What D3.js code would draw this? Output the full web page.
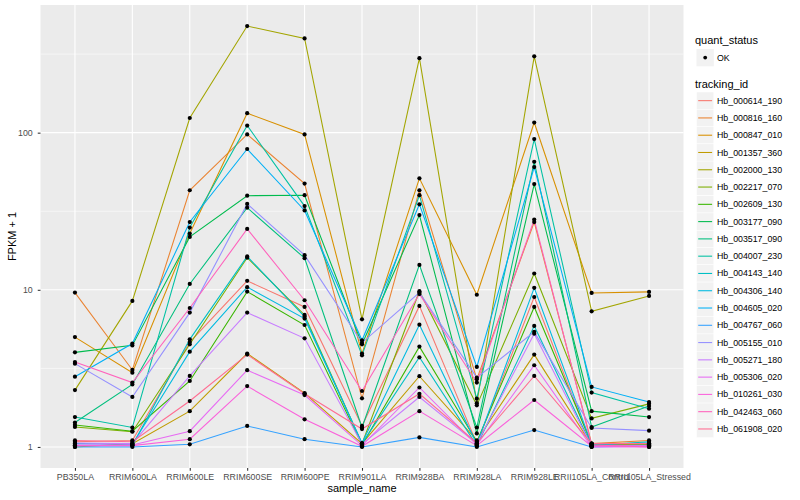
<!DOCTYPE html>
<html>
<head>
<meta charset="utf-8">
<script src="https://cdn.jsdelivr.net/npm/d3@7"></script>
<style>
  body { margin: 0; background: #fff; }
  text { font-family: "Liberation Sans", Arial, sans-serif; }
</style>
</head>
<body>
<svg id="chart"></svg>
<script>
//------ Données ------
var samples = ["PB350LA", "RRIM600LA", "RRIM600LE", "RRIM600SE", "RRIM600PE", "RRIM901LA",
  "RRIM928BA", "RRIM928LA", "RRIM928LE", "RRII105LA_Control", "RRII105LA_Stressed"];

var trackingIds = ["Hb_000614_190", "Hb_000816_160", "Hb_000847_010", "Hb_001357_360", "Hb_002000_130",
  "Hb_002217_070", "Hb_002609_130", "Hb_003177_090", "Hb_003517_090", "Hb_004007_230",
  "Hb_004143_140", "Hb_004306_140", "Hb_004605_020", "Hb_004767_060", "Hb_005155_010",
  "Hb_005271_180", "Hb_005306_020", "Hb_010261_030", "Hb_042463_060", "Hb_061908_020"];

// FPKM + 1, une ligne par tracking_id, dans l'ordre des samples
var fpkm = [
  [1.08, 1.10, 4.65, 11.4, 7.78, 1.36, 7.9, 1.05, 9.0, 1.02, 1.03],
  [9.6, 3.09, 43, 97.5, 47.4, 2.04, 43, 2.7, 27, 1.05, 1.10],
  [5.0, 2.97, 22.8, 133, 97.5, 3.93, 51.2, 9.3, 116, 9.55, 9.7],
  [1.0, 1.05, 1.69, 3.93, 2.2, 1.05, 2.82, 1.10, 3.87, 1.03, 1.05],
  [2.3, 8.5, 124, 477, 398, 6.49, 298, 1.9, 306, 7.3, 9.14],
  [1.34, 1.25, 4.5, 16.0, 6.92, 1.05, 9.8, 1.84, 12.7, 1.52, 1.88],
  [1.38, 1.26, 2.63, 9.74, 5.97, 1.03, 4.35, 1.08, 7.78, 1.05, 1.04],
  [4.0, 4.43, 21.7, 39.7, 40, 4.5, 29.9, 1.22, 47.1, 1.69, 1.55],
  [1.43, 2.5, 10.9, 33.3, 15.9, 1.33, 14.4, 1.33, 65.3, 1.34, 1.82],
  [1.55, 1.33, 24.9, 111, 34.1, 3.83, 40, 2.03, 91, 2.22, 1.75],
  [1.02, 1.02, 4.84, 16.3, 6.76, 1.05, 3.72, 1.02, 5.89, 1.02, 1.08],
  [1.05, 1.04, 4.04, 10.4, 6.56, 1.06, 6.0, 1.04, 10.3, 1.04, 1.06],
  [2.8, 4.55, 27, 78.7, 32, 4.77, 35, 3.23, 60.4, 2.41, 1.93],
  [1.0, 1.0, 1.04, 1.36, 1.12, 1.0, 1.15, 1.0, 1.28, 1.0, 1.02],
  [3.39, 2.08, 7.16, 35.2, 16.6, 4.6, 9.6, 2.76, 5.4, 1.32, 1.27],
  [1.06, 1.05, 2.83, 7.16, 4.91, 1.04, 2.08, 1.05, 5.26, 1.01, 1.02],
  [1.03, 1.03, 1.26, 3.08, 2.14, 1.02, 2.39, 1.03, 3.31, 1.0, 1.0],
  [1.02, 1.02, 1.12, 2.44, 1.5, 1.01, 1.69, 1.02, 1.99, 1.01, 1.01],
  [3.47, 2.57, 7.66, 24.4, 8.58, 2.27, 9.4, 2.57, 28, 1.03, 1.0],
  [1.10, 1.08, 1.96, 3.87, 2.18, 1.30, 2.18, 1.06, 2.83, 1.05, 1.05]
];

var colors = ["#F8766D", "#EA8331", "#D89000", "#C09B00", "#A3A500", "#7CAE00", "#39B600",
  "#00BB4E", "#00BF7D", "#00C1A3", "#00BFC4", "#00BAE0", "#00B0F6", "#35A2FF", "#9590FF",
  "#C77CFF", "#E76BF3", "#FA62DB", "#FF62BC", "#FF6C91"];

var yTicks = [1, 10, 100];
var yMinor = [Math.sqrt(10), Math.sqrt(1000), Math.sqrt(100000)];

//------ Rendre le graphique ------
var width = 800,
    height = 500;

var panel = {left: 40.5, right: 683.5, top: 5, bottom: 468};

var svg = d3.select("#chart")
    .attr("width", width)
    .attr("height", height);

// échelles (log avec 5% d'expansion comme ggplot)
var all = fpkm.flat();
var lmin = Math.log10(d3.min(all)), lmax = Math.log10(d3.max(all));
var pad = (lmax - lmin) * 0.05;

var x = d3.scalePoint()
    .domain(samples)
    .range([panel.left, panel.right])
    .padding(0.6);

var y = d3.scaleLog()
    .domain([Math.pow(10, lmin - pad), Math.pow(10, lmax + pad)])
    .range([panel.bottom, panel.top]);

// fond du panneau
svg.append("rect")
    .attr("x", panel.left)
    .attr("y", panel.top)
    .attr("width", panel.right - panel.left)
    .attr("height", panel.bottom - panel.top)
    .attr("fill", "#EBEBEB");

// grille
var grid = svg.append("g").attr("stroke", "#fff");
grid.selectAll("line.minor")
    .data(yMinor)
    .enter().append("line")
    .attr("x1", panel.left).attr("x2", panel.right)
    .attr("y1", d => y(d)).attr("y2", d => y(d))
    .attr("stroke-width", 0.55);
grid.selectAll("line.ymaj")
    .data(yTicks)
    .enter().append("line")
    .attr("x1", panel.left).attr("x2", panel.right)
    .attr("y1", d => y(d)).attr("y2", d => y(d))
    .attr("stroke-width", 1.1);
grid.selectAll("line.xmaj")
    .data(samples)
    .enter().append("line")
    .attr("x1", d => x(d)).attr("x2", d => x(d))
    .attr("y1", panel.top).attr("y2", panel.bottom)
    .attr("stroke-width", 1.1);

// lignes
var line = d3.line()
    .x((d, i) => x(samples[i]))
    .y(d => y(d));

svg.append("g")
    .selectAll("path")
    .data(fpkm)
    .enter().append("path")
    .attr("d", line)
    .attr("fill", "none")
    .attr("stroke", (d, i) => colors[i])
    .attr("stroke-width", 1.07);

// points
svg.append("g")
    .selectAll("g")
    .data(fpkm)
    .enter().append("g")
    .selectAll("circle")
    .data(d => d)
    .enter().append("circle")
    .attr("cx", (d, i) => x(samples[i]))
    .attr("cy", d => y(d))
    .attr("r", 2.1)
    .attr("fill", "#000");

// axes
var yAxis = svg.append("g")
    .attr("transform", "translate(" + panel.left + ",0)")
    .call(d3.axisLeft(y).tickValues(yTicks).tickFormat(d3.format("d")).tickSize(2.75).tickPadding(5));
var xAxis = svg.append("g")
    .attr("transform", "translate(0," + panel.bottom + ")")
    .call(d3.axisBottom(x).tickSize(2.75).tickPadding(3.5));

[yAxis, xAxis].forEach(function (a) {
    a.select(".domain").remove();
    a.selectAll(".tick line").attr("stroke", "#333").attr("stroke-width", 1.07);
    a.selectAll(".tick text")
        .attr("fill", "#4D4D4D")
        .style("font-size", "8.8px")
        .style("font-family", "'Liberation Sans', Arial, sans-serif");
});

// titres des axes
svg.append("text")
    .attr("x", (panel.left + panel.right) / 2)
    .attr("y", 492)
    .attr("text-anchor", "middle")
    .style("font-size", "11px")
    .text("sample_name");

svg.append("text")
    .attr("transform", "translate(16," + (panel.top + panel.bottom) / 2 + ") rotate(-90)")
    .attr("text-anchor", "middle")
    .style("font-size", "11px")
    .text("FPKM + 1");

//------ Légendes ------
var legX = 695;

svg.append("text")
    .attr("x", legX).attr("y", 44)
    .style("font-size", "11px")
    .text("quant_status");

svg.append("rect")
    .attr("x", legX + 1.5).attr("y", 49)
    .attr("width", 17.3).attr("height", 17.3)
    .attr("fill", "#F2F2F2");
svg.append("circle")
    .attr("cx", legX + 10.2).attr("cy", 57.6)
    .attr("r", 1.9)
    .attr("fill", "#000");
svg.append("text")
    .attr("x", legX + 22).attr("y", 60.6)
    .style("font-size", "8.8px")
    .text("OK");

svg.append("text")
    .attr("x", legX).attr("y", 88)
    .style("font-size", "11px")
    .text("tracking_id");

var keys = svg.append("g")
    .selectAll("g")
    .data(trackingIds)
    .enter().append("g")
    .attr("transform", (d, i) => "translate(" + (legX + 1.5) + "," + (92 + i * 17.28) + ")");

keys.append("rect")
    .attr("width", 17.3).attr("height", 17.3)
    .attr("fill", "#F2F2F2")
    .attr("stroke", "#fff")
    .attr("stroke-width", 0.5);
keys.append("line")
    .attr("x1", 1.7).attr("x2", 15.6)
    .attr("y1", 8.65).attr("y2", 8.65)
    .attr("stroke", (d, i) => colors[i])
    .attr("stroke-width", 1.07);
keys.append("text")
    .attr("x", 20.5).attr("y", 11.7)
    .style("font-size", "8.8px")
    .text(d => d);
</script>
</body>
</html>
